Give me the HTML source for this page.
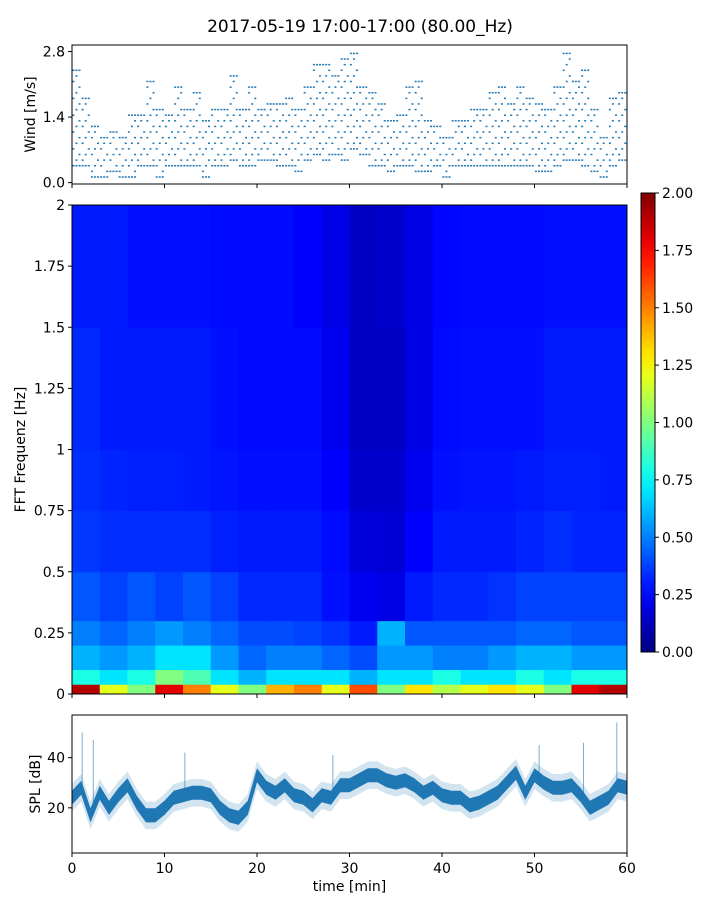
<!DOCTYPE html>
<html><head><meta charset="utf-8">
<style>
html,body{margin:0;padding:0;background:#fff;}
svg text{font-family:"DejaVu Sans","Liberation Sans",sans-serif;fill:#000;}
</style></head>
<body>
<svg id="fig" width="720" height="900" viewBox="0 0 720 900" xmlns="http://www.w3.org/2000/svg">
<text x="360" y="32" font-size="17" text-anchor="middle">2017-05-19 17:00-17:00 (80.00_Hz)</text>
<g id="wind"></g>
<g id="spec"></g>
<g id="cbar"></g>
<g id="spl"></g>
</svg>
<script>
// ---- data ----
const xTicks=[0,10,20,30,40,50,60];
const windTicks=[0.0,1.4,2.8];
const windTickLabels=["0.0","1.4","2.8"];
const windLo=[0.4,0.3,0.1,0.1,0.2,0.1,0.1,0.4,0.4,0.1,0.3,0.3,0.4,0.3,0.1,0.4,0.3,0.5,0.3,0.4,0.5,0.5,0.4,0.3,0.2,0.5,0.6,0.5,0.6,0.5,0.7,0.6,0.4,0.3,0.2,0.3,0.3,0.2,0.2,0.3,0.1,0.3,0.4,0.4,0.3,0.4,0.4,0.4,0.3,0.3,0.2,0.2,0.4,0.5,0.5,0.4,0.2,0.1,0.3,0.5];
const windHi=[2.4,1.8,1.2,1.0,1.1,0.9,1.4,1.4,2.1,1.6,1.4,2.0,1.6,1.9,1.3,1.5,1.5,2.3,1.6,2.0,1.6,1.7,1.7,1.8,1.6,2.0,2.5,2.5,2.3,2.6,2.8,2.0,1.9,1.7,1.3,1.4,2.0,2.2,1.3,1.2,1.0,1.3,1.3,1.6,1.6,1.9,2.0,1.7,2.0,1.8,1.7,1.5,2.0,2.7,2.2,2.4,1.6,1.0,1.8,1.9];
const freqEdges=[0,0.04,0.1,0.2,0.3,0.5,0.75,1.0,1.5,2.0];
const timeEdges=[0,3,6,9,12,15,18,21,24,27,30,33,36,39,42,45,48,51,54,57,60];
const specBand0=[1.9,1.2,1.0,1.8,1.5,1.2,1.0,1.4,1.5,1.2,1.6,1.0,1.3,1.1,1.2,1.3,1.2,1.0,1.8,1.9];
const specBand1=[0.8,0.7,0.8,1.0,0.9,0.7,0.6,0.7,0.7,0.7,0.6,0.7,0.7,0.8,0.7,0.7,0.8,0.7,0.8,0.8];
const specBand2=[0.6,0.55,0.6,0.7,0.7,0.55,0.45,0.5,0.5,0.45,0.4,0.55,0.55,0.5,0.5,0.55,0.6,0.6,0.55,0.55];
const specBand3=[0.5,0.45,0.5,0.55,0.5,0.45,0.4,0.4,0.38,0.35,0.3,0.6,0.42,0.42,0.42,0.42,0.45,0.45,0.42,0.42];
const specBand4=[0.42,0.38,0.42,0.38,0.42,0.38,0.33,0.33,0.33,0.28,0.22,0.2,0.3,0.33,0.33,0.35,0.38,0.38,0.38,0.38];
const specBand5=[0.36,0.34,0.34,0.34,0.34,0.31,0.3,0.3,0.3,0.27,0.18,0.17,0.25,0.3,0.3,0.3,0.32,0.34,0.32,0.32];
const specBand6=[0.34,0.32,0.31,0.31,0.3,0.29,0.28,0.28,0.28,0.25,0.15,0.15,0.22,0.28,0.29,0.29,0.3,0.31,0.31,0.3];
const specBand7=[0.33,0.3,0.3,0.3,0.3,0.28,0.27,0.27,0.27,0.22,0.13,0.13,0.2,0.27,0.28,0.28,0.28,0.3,0.3,0.3];
const specBand8=[0.3,0.3,0.28,0.28,0.28,0.27,0.27,0.27,0.25,0.2,0.13,0.15,0.2,0.26,0.27,0.27,0.27,0.28,0.28,0.28];
const specBands=[specBand0,specBand1,specBand2,specBand3,specBand4,specBand5,specBand6,specBand7,specBand8];
const freqTicks=[0,0.25,0.5,0.75,1,1.25,1.5,1.75,2];
const freqTickLabels=["0","0.25","0.5","0.75","1","1.25","1.5","1.75","2"];
const cbarTicks=[0,0.25,0.5,0.75,1,1.25,1.5,1.75,2];
const cbarTickLabels=["0.00","0.25","0.50","0.75","1.00","1.25","1.50","1.75","2.00"];
const splTimes=[0,1,2,3,4,5,6,7,8,9,10,11,12,13,14,15,16,17,18,19,20,21,22,23,24,25,26,27,28,29,30,31,32,33,34,35,36,37,38,39,40,41,42,43,44,45,46,47,48,49,50,51,52,53,54,55,56,57,58,59,60];
const splMean=[24,28,17,26,20,25,29,22,17,17,20,24,25,26,26,25,20,17,16,20,33,28,26,29,25,24,21,25,24,29,29,31,33,33,31,30,31,29,26,28,25,24,24,21,22,24,26,30,34,26,33,30,28,28,29,25,20,22,24,29,28];
const splSpikeT=[1.1,2.3,12.2,28.2,50.5,55.3,58.9];
const splSpikeV=[50,47,42,41,45,46,54];
const splTicks=[20,40];

// ---- layout ----
const NS="http://www.w3.org/2000/svg";
const X0=72,X1=627;
const xs=t=>X0+(t/60)*(X1-X0);
const W={top:45,bot:184,min:-0.03,max:2.94};
const wy=v=>W.bot-(v-W.min)/(W.max-W.min)*(W.bot-W.top);
const S={top:205,bot:694};
const fy=f=>S.bot-(f/2)*(S.bot-S.top);
const C={x:641,w:14,top:193,bot:652};
const cy=v=>C.bot-(v/2)*(C.bot-C.top);
const P={top:715,bot:853,min:2,max:57};
const py=v=>P.bot-(v-P.min)/(P.max-P.min)*(P.bot-P.top);
function mk(tag,attrs,parent){const e=document.createElementNS(NS,tag);for(const k in attrs)e.setAttribute(k,attrs[k]);parent.appendChild(e);return e;}
function clip(v){return Math.max(0,Math.min(1,v));}
function jet(v){const x=clip(v/2);const r=clip(1.5-Math.abs(4*x-3)),g=clip(1.5-Math.abs(4*x-2)),b=clip(1.5-Math.abs(4*x-1));return `rgb(${Math.round(r*255)},${Math.round(g*255)},${Math.round(b*255)})`;}

// ---- wind ----
const wg=document.getElementById('wind');
for(let i=0;i<windLo.length;i++){
  const lo=Math.round(windLo[i]/0.12),hi=Math.round(windHi[i]/0.12);
  for(let q=lo;q<=hi;q++){
    for(let s=0;s<3;s++){
      if((q*2+s+i)%3!==0 && q!==lo && q!==hi) continue;
      const d=mk('rect',{x:xs(i+s*0.33+0.15)-1,y:wy(q*0.12)-0.75,width:2,height:1.5,fill:'#1f77b4'},wg);
      
      
    }
  }
}
const wf=mk('rect',{x:X0,y:W.top,width:X1-X0,height:W.bot-W.top,fill:'none',stroke:'#000','stroke-width':1},wg);

windTicks.forEach((v,i)=>{mk('line',{x1:X0-4,x2:X0,y1:wy(v),y2:wy(v),stroke:'#000'},wg);
  const t=mk('text',{x:X0-7,y:wy(v)+5,'font-size':14,'text-anchor':'end'},wg);t.textContent=windTickLabels[i];
  });
xTicks.forEach(v=>mk('line',{x1:xs(v),x2:xs(v),y1:W.bot,y2:W.bot+4,stroke:'#000'},wg));
const wl=mk('text',{x:0,y:0,'font-size':14,'text-anchor':'middle',transform:`translate(35,${(W.top+W.bot)/2}) rotate(-90)`},wg);wl.textContent='Wind [m/s]';


// ---- spectrogram ----
const sg=document.getElementById('spec');
for(let b=0;b<specBands.length;b++){
  for(let c=0;c<timeEdges.length-1;c++){
    const r=mk('rect',{x:xs(timeEdges[c]),y:fy(freqEdges[b+1]),width:xs(timeEdges[c+1])-xs(timeEdges[c])+0.5,height:fy(freqEdges[b])-fy(freqEdges[b+1])+0.5,fill:jet(specBands[b][c])},sg);
    
    
  }
}
const sf=mk('rect',{x:X0,y:S.top,width:X1-X0,height:S.bot-S.top,fill:'none',stroke:'#000'},sg);

freqTicks.forEach((v,i)=>{mk('line',{x1:X0-4,x2:X0,y1:fy(v),y2:fy(v),stroke:'#000'},sg);
  const t=mk('text',{x:X0-7,y:fy(v)+5,'font-size':14,'text-anchor':'end'},sg);t.textContent=freqTickLabels[i];
  });
xTicks.forEach(v=>mk('line',{x1:xs(v),x2:xs(v),y1:S.bot,y2:S.bot+4,stroke:'#000'},sg));
const sl=mk('text',{x:0,y:0,'font-size':14,'text-anchor':'middle',transform:`translate(25,${(S.top+S.bot)/2}) rotate(-90)`},sg);sl.textContent='FFT Frequenz [Hz]';


// ---- colorbar ----
const cg=document.getElementById('cbar');
const defs=mk('defs',{},cg);
const lg=mk('linearGradient',{id:'jetg',x1:0,y1:1,x2:0,y2:0},defs);
for(let i=0;i<=20;i++)mk('stop',{offset:i/20,'stop-color':jet(i/10)},lg);
const cb=mk('rect',{x:C.x,y:C.top,width:C.w,height:C.bot-C.top,fill:'url(#jetg)',stroke:'#000'},cg);

cbarTicks.forEach((v,i)=>{mk('line',{x1:C.x+C.w,x2:C.x+C.w+4,y1:cy(v),y2:cy(v),stroke:'#000'},cg);
  const t=mk('text',{x:C.x+C.w+7,y:cy(v)+5,'font-size':14},cg);t.textContent=cbarTickLabels[i];
  });

// ---- SPL ----
const pg=document.getElementById('spl');
function band(off,fill,op){
  let d='';
  splTimes.forEach((t,i)=>{d+=(i?'L':'M')+xs(t).toFixed(1)+','+py(splMean[i]+off).toFixed(1);});
  for(let i=splTimes.length-1;i>=0;i--)d+='L'+xs(splTimes[i]).toFixed(1)+','+py(splMean[i]-off).toFixed(1);
  return mk('path',{d:d+'Z',fill:fill,'fill-opacity':op},pg);
}
const b1=band(5.5,'#1f77b4',0.2);
const b2=band(2.8,'#1f77b4',1);
splSpikeT.forEach((t,i)=>{
  const j=Math.round(t);
  const l=mk('line',{x1:xs(t),x2:xs(t),y1:py(splMean[j]),y2:py(splSpikeV[i]),stroke:'#1f77b4','stroke-width':1,'stroke-opacity':0.6},pg);
  
  
});
const pf=mk('rect',{x:X0,y:P.top,width:X1-X0,height:P.bot-P.top,fill:'none',stroke:'#000'},pg);

splTicks.forEach(v=>{mk('line',{x1:X0-4,x2:X0,y1:py(v),y2:py(v),stroke:'#000'},pg);
  const t=mk('text',{x:X0-7,y:py(v)+5,'font-size':14,'text-anchor':'end'},pg);t.textContent=String(v);
  });
xTicks.forEach(v=>{mk('line',{x1:xs(v),x2:xs(v),y1:P.bot,y2:P.bot+4,stroke:'#000'},pg);
  const t=mk('text',{x:xs(v),y:P.bot+20,'font-size':14,'text-anchor':'middle'},pg);t.textContent=String(v);
  });
const pl=mk('text',{x:0,y:0,'font-size':14,'text-anchor':'middle',transform:`translate(40,${(P.top+P.bot)/2}) rotate(-90)`},pg);pl.textContent='SPL [dB]';

const xl=mk('text',{x:(X0+X1)/2,y:891,'font-size':14,'text-anchor':'middle'},pg);xl.textContent='time [min]';

</script>
</body></html>
